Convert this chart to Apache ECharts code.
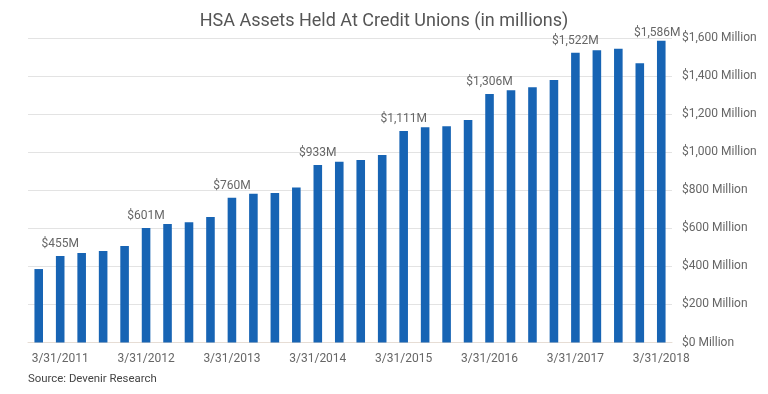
<!DOCTYPE html>
<html><head><meta charset="utf-8">
<script src="https://cdn.jsdelivr.net/npm/echarts@6/dist/echarts.min.js"></script>
<style>html,body{margin:0;padding:0;background:#fff}#c{width:768px;height:394px}</style>
</head><body><div id="c"></div>
<script>
const categories = [
  "12/31/2010","3/31/2011","6/30/2011","9/30/2011","12/31/2011",
  "3/31/2012","6/30/2012","9/30/2012","12/31/2012",
  "3/31/2013","6/30/2013","9/30/2013","12/31/2013",
  "3/31/2014","6/30/2014","9/30/2014","12/31/2014",
  "3/31/2015","6/30/2015","9/30/2015","12/31/2015",
  "3/31/2016","6/30/2016","9/30/2016","12/31/2016",
  "3/31/2017","6/30/2017","9/30/2017","12/31/2017",
  "3/31/2018"
];
const assets = [
  386, 455, 470, 481, 507,
  601, 623, 632, 660,
  760, 782, 786, 815,
  933, 950, 959, 985,
  1111, 1131, 1136, 1169,
  1306, 1325, 1341, 1379,
  1522, 1535, 1544, 1467,
  1586
];
const yTicks = [0, 200, 400, 600, 800, 1000, 1200, 1400, 1600];

const fmt = v => '$' + v.toLocaleString('en-US');
const isMarch = c => c.startsWith('3/31');

const data = assets.map((v, i) => {
  const item = { value: v };
  if (isMarch(categories[i])) {
    item.label = { show: true };
    if (i === categories.length - 1) item.label.offset = [-4, 4];
  }
  return item;
});

const chart = echarts.init(document.getElementById('c'));
chart.setOption({
  animation: false,
  title: {
    text: 'HSA Assets Held At Credit Unions (in millions)',
    left: 'center', top: 7,
    textStyle: { fontFamily: 'Roboto', fontWeight: 'normal', fontSize: 18, color: '#555' }
  },
  graphic: [{
    type: 'text', left: 28, top: 374,
    style: { text: 'Source: Devenir Research', font: '11.4px Roboto', fill: '#444' }
  }],
  grid: { left: 28, right: 96, top: 38, bottom: 51.5 },
  xAxis: {
    type: 'category', data: categories,
    axisTick: { show: false },
    axisLine: { lineStyle: { color: '#e6ddd5' } },
    axisLabel: {
      interval: (idx, val) => isMarch(val),
      color: '#666', fontFamily: 'Roboto', fontSize: 12, margin: 10
    }
  },
  yAxis: {
    type: 'value', position: 'right', min: yTicks[0], max: yTicks[yTicks.length - 1], interval: 200,
    axisLine: { show: false }, axisTick: { show: false },
    splitLine: { lineStyle: { color: '#e3e3e3' } },
    axisLabel: {
      formatter: v => fmt(v) + ' Million',
      color: '#666', fontFamily: 'Roboto', fontSize: 12, margin: 10
    }
  },
  series: [{
    type: 'bar', data: data, barWidth: '40%',
    itemStyle: { color: '#1764b4' },
    label: {
      show: false, position: 'top', distance: 6,
      formatter: p => fmt(p.value) + 'M',
      color: '#666', fontFamily: 'Roboto', fontSize: 12
    }
  }]
});
</script></body></html>
